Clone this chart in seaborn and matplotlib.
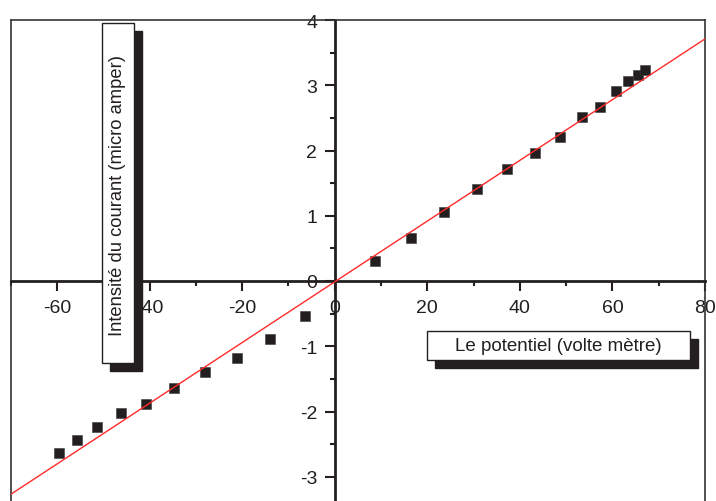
import matplotlib
matplotlib.use("Agg")
import matplotlib.pyplot as plt
from matplotlib.patches import Rectangle
from matplotlib.lines import Line2D
from matplotlib.ticker import MultipleLocator
import seaborn as sb

# data
potentiel = [-59.6, -55.7, -51.4, -46.2, -40.8, -34.7, -28.0, -21.2, -14.0, -6.4,
             8.6, 16.4, 23.6, 30.8, 37.2, 43.2, 48.6, 53.5, 57.4, 60.8, 63.4, 65.5, 67.0]
intensite = [-2.63, -2.44, -2.24, -2.03, -1.885, -1.635, -1.39, -1.185, -0.885, -0.54,
             0.31, 0.66, 1.06, 1.405, 1.71, 1.96, 2.21, 2.51, 2.66, 2.91, 3.06, 3.16, 3.23]
# fitted straight line (end points)
fit_x = [-70, 80]
fit_y = [-3.27, 3.71]

xlabel = "Le potentiel (volte mètre)"
ylabel = "Intensité du courant (micro amper)"

sb.set_theme(style="white")
plt.rcParams['font.family'] = ['Liberation Sans', 'DejaVu Sans']
plt.rcParams['axes.unicode_minus'] = False

W, H = 716, 502
fig = plt.figure(figsize=(W / 100, H / 100), dpi=100)
ax = fig.add_axes([10.7 / W, 0, (705 - 10.7) / W, (H - 21) / H])

dark = '#231f20'
sb.scatterplot(x=potentiel, y=intensite, marker='s', s=58, color=dark,
               edgecolor='#3a3a3a', linewidth=0.4, ax=ax, zorder=3, clip_on=False)
sb.lineplot(x=fit_x, y=fit_y, color='#ff2a2a', linewidth=1.0, ax=ax, zorder=4)

ax.set_xlim(-70, 80)
ax.set_ylim(-(H - 282) / 65.25, 4)

# axes through the origin
for side in ['left', 'bottom']:
    ax.spines[side].set_position(('data', 0))
    ax.spines[side].set_color(dark)
    ax.spines[side].set_linewidth(2)
for side in ['top', 'right']:
    ax.spines[side].set_color('#333333')
    ax.spines[side].set_linewidth(1.2)
ax.add_line(Line2D([0, 0], [0, 1], transform=ax.transAxes, color='#333333',
                   linewidth=1.2, clip_on=False))

ax.xaxis.set_minor_locator(MultipleLocator(10))
ax.yaxis.set_minor_locator(MultipleLocator(0.5))
ax.set_xticks([-60, -40, -20, 0, 20, 40, 60, 80])
ax.set_yticks([-3, -2, -1, 0, 1, 2, 3, 4])
ax.tick_params(which='major', direction='out', length=7.2, width=1.5, color=dark,
               labelsize=14, labelcolor=dark, pad=5.5)
ax.tick_params(which='minor', direction='out', length=3.6, width=1.5, color=dark)
ax.tick_params(axis='x', which='both', bottom=True, top=False)
ax.tick_params(axis='y', which='both', left=True, right=False)
ax.set_xlabel('')
ax.set_ylabel('')


def box(x0, y0, x1, y1):
    # pixel box (top-down) -> figure fraction rectangle
    return (x0 / W, 1 - y1 / H), (x1 - x0) / W, (y1 - y0) / H


# y label box with shadow
(bx, by), bw, bh = box(102, 24, 134, 364)
fig.add_artist(Rectangle((bx + 8 / W, by - 8 / H), bw, bh, transform=fig.transFigure,
                         facecolor=dark, edgecolor=dark, zorder=5))
fig.add_artist(Rectangle((bx, by), bw, bh, transform=fig.transFigure,
                         facecolor='white', edgecolor=dark, linewidth=1, zorder=6))
fig.text(118 / W, 1 - 196 / H, ylabel, rotation=90, ha='center', va='center',
         fontsize=13.2, color=dark, zorder=7)

# x label box with shadow
(bx, by), bw, bh = box(426.7, 332, 690, 361)
fig.add_artist(Rectangle((bx + 8 / W, by - 8 / H), bw, bh, transform=fig.transFigure,
                         facecolor=dark, edgecolor=dark, zorder=5))
fig.add_artist(Rectangle((bx, by), bw, bh, transform=fig.transFigure,
                         facecolor='white', edgecolor=dark, linewidth=1, zorder=6))
fig.text(558 / W, 1 - 346.5 / H, xlabel, ha='center', va='center',
         fontsize=13.5, color=dark, zorder=7)

fig.savefig('out.png', dpi=100)
